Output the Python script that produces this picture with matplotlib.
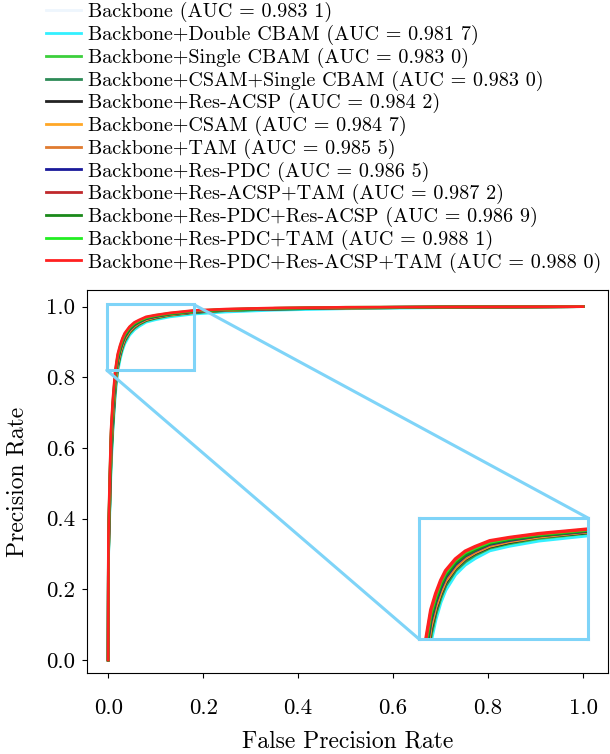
import matplotlib
matplotlib.use("Agg")
import matplotlib.pyplot as plt
from matplotlib.patches import Rectangle, ConnectionPatch

plt.rcParams['font.family'] = ['cmr10', 'DejaVu Serif']
plt.rcParams['axes.unicode_minus'] = False
plt.rcParams['mathtext.fontset'] = 'cm'
plt.rcParams['axes.formatter.use_mathtext'] = True

labels = [
    "Backbone (AUC = 0.983 1)",
    "Backbone+Double CBAM (AUC = 0.981 7)",
    "Backbone+Single CBAM (AUC = 0.983 0)",
    "Backbone+CSAM+Single CBAM (AUC = 0.983 0)",
    "Backbone+Res-ACSP (AUC = 0.984 2)",
    "Backbone+CSAM (AUC = 0.984 7)",
    "Backbone+TAM (AUC = 0.985 5)",
    "Backbone+Res-PDC (AUC = 0.986 5)",
    "Backbone+Res-ACSP+TAM (AUC = 0.987 2)",
    "Backbone+Res-PDC+Res-ACSP (AUC = 0.986 9)",
    "Backbone+Res-PDC+TAM (AUC = 0.988 1)",
    "Backbone+Res-PDC+Res-ACSP+TAM (AUC = 0.988 0)",
]
colors = ["#eef6fd", "#33f0ff", "#3ccf3c", "#2e8b57", "#222222", "#ffa726",
          "#e07b30", "#1a1a9a", "#c0282b", "#1a8a1a", "#22ee22", "#ff2020"]

fpr = [0.0, 0.0005, 0.003, 0.006, 0.010, 0.015, 0.020, 0.025, 0.03, 0.035, 0.045,
       0.055, 0.065, 0.08, 0.10, 0.13, 0.18, 0.25, 0.35, 0.50, 0.70, 1.0]

tpr_backbone = [0.0, 0.29, 0.42, 0.56, 0.665, 0.765, 0.826, 0.860, 0.884, 0.902, 0.925,
                0.939, 0.949, 0.960, 0.967, 0.975, 0.983, 0.989, 0.993, 0.996, 0.998, 1.0]
tpr_double_cbam = [0.0, 0.28, 0.40, 0.54, 0.65, 0.75, 0.815, 0.850, 0.876, 0.895, 0.919,
                   0.934, 0.944, 0.956, 0.963, 0.971, 0.979, 0.985, 0.990, 0.994, 0.997, 1.0]
tpr_single_cbam = [0.0, 0.29, 0.42, 0.56, 0.665, 0.765, 0.825, 0.859, 0.883, 0.902, 0.925,
                   0.939, 0.949, 0.960, 0.967, 0.975, 0.983, 0.989, 0.993, 0.996, 0.998, 1.0]
tpr_csam_single = [0.0, 0.29, 0.42, 0.57, 0.67, 0.77, 0.828, 0.861, 0.885, 0.903, 0.926,
                   0.940, 0.950, 0.961, 0.968, 0.976, 0.984, 0.989, 0.993, 0.996, 0.998, 1.0]
tpr_res_acsp = [0.0, 0.30, 0.43, 0.58, 0.68, 0.78, 0.834, 0.866, 0.889, 0.907, 0.929,
                0.943, 0.952, 0.962, 0.969, 0.977, 0.984, 0.990, 0.993, 0.996, 0.998, 1.0]
tpr_csam = [0.0, 0.30, 0.44, 0.59, 0.69, 0.785, 0.838, 0.869, 0.891, 0.909, 0.930,
            0.944, 0.953, 0.963, 0.970, 0.977, 0.985, 0.990, 0.994, 0.996, 0.998, 1.0]
tpr_tam = [0.0, 0.31, 0.45, 0.60, 0.70, 0.79, 0.842, 0.872, 0.894, 0.911, 0.932,
           0.945, 0.954, 0.964, 0.971, 0.978, 0.985, 0.990, 0.994, 0.997, 0.998, 1.0]
tpr_res_pdc = [0.0, 0.32, 0.46, 0.61, 0.71, 0.80, 0.848, 0.877, 0.898, 0.915, 0.935,
               0.948, 0.956, 0.966, 0.972, 0.979, 0.986, 0.991, 0.994, 0.997, 0.999, 1.0]
tpr_acsp_tam = [0.0, 0.33, 0.48, 0.63, 0.725, 0.81, 0.856, 0.883, 0.904, 0.920, 0.939,
                0.951, 0.959, 0.968, 0.974, 0.980, 0.987, 0.992, 0.995, 0.997, 0.999, 1.0]
tpr_pdc_acsp = [0.0, 0.33, 0.47, 0.62, 0.72, 0.805, 0.852, 0.880, 0.901, 0.917, 0.937,
                0.949, 0.957, 0.967, 0.973, 0.979, 0.987, 0.991, 0.995, 0.997, 0.999, 1.0]
tpr_pdc_tam = [0.0, 0.34, 0.49, 0.64, 0.73, 0.815, 0.860, 0.886, 0.907, 0.922, 0.941,
               0.953, 0.960, 0.969, 0.975, 0.981, 0.988, 0.992, 0.995, 0.998, 0.999, 1.0]
tpr_pdc_acsp_tam = [0.0, 0.35, 0.50, 0.65, 0.74, 0.82, 0.865, 0.89, 0.910, 0.925, 0.943,
                    0.955, 0.962, 0.971, 0.976, 0.982, 0.989, 0.993, 0.996, 0.998, 0.999, 1.0]

tprs = [tpr_backbone, tpr_double_cbam, tpr_single_cbam, tpr_csam_single, tpr_res_acsp,
        tpr_csam, tpr_tam, tpr_res_pdc, tpr_acsp_tam, tpr_pdc_acsp, tpr_pdc_tam,
        tpr_pdc_acsp_tam]

xticks = [0.0, 0.2, 0.4, 0.6, 0.8, 1.0]
yticks = [0.0, 0.2, 0.4, 0.6, 0.8, 1.0]

FS_LEG = 14.5
FS_TICK = 16.5
FS_LAB = 17
BOX = "#7fd4f8"

fig = plt.figure(figsize=(6.10, 7.54), dpi=100)
ax = fig.add_axes([0.1431, 0.1074, 0.8541, 0.5080])
for lab, col, t in zip(labels, colors, tprs):
    ax.plot(fpr, t, color=col, lw=2, label=lab)
ax.set_xlim(-0.044, 1.053)
ax.set_ylim(-0.037, 1.047)
ax.set_xticks(xticks)
ax.set_yticks(yticks)
ax.set_xticklabels([f"{v:.1f}" for v in xticks], fontsize=FS_TICK)
ax.set_yticklabels([f"{v:.1f}" for v in yticks], fontsize=FS_TICK)
ax.tick_params(axis='x', pad=15)
ax.tick_params(axis='y', pad=5.5)
ax.set_xlabel("False Precision Rate", fontsize=FS_LAB, labelpad=9)
ax.set_ylabel("Precision Rate", fontsize=FS_LAB, labelpad=12)

# zoom box on main axes
bx0, by0, bx1, by1 = -0.003, 0.82, 0.18, 1.006
ax.add_patch(Rectangle((bx0, by0), bx1 - bx0, by1 - by0, fill=False,
                       edgecolor=BOX, lw=2.2, zorder=5))

# inset
axin = fig.add_axes([0.6869, 0.1525, 0.2770, 0.1605])
for lab, col, t in zip(labels, colors, tprs):
    axin.plot(fpr, t, color=col, lw=2.5)
axin.set_xlim(0.008, 0.18)
axin.set_ylim(0.82, 1.006)
axin.set_xticks([])
axin.set_yticks([])
for s in axin.spines.values():
    s.set_edgecolor(BOX)
    s.set_linewidth(2.2)

for (mx, my), (ix, iy) in [((bx1, by1), (1, 1)), ((bx0, by0), (0, 0))]:
    cp = ConnectionPatch(xyA=(mx, my), coordsA=ax.transData,
                         xyB=(ix, iy), coordsB=axin.transAxes,
                         color=BOX, lw=2.2, zorder=6)
    fig.add_artist(cp)

handles, labs = ax.get_legend_handles_labels()
fig.legend(handles, labs, loc="upper left", bbox_to_anchor=(0.0754, 0.997),
           frameon=False, fontsize=FS_LEG, borderpad=0, borderaxespad=0,
           handlelength=1.74, handletextpad=0.33, labelspacing=0.13)

fig.savefig("out.png", dpi=100)
